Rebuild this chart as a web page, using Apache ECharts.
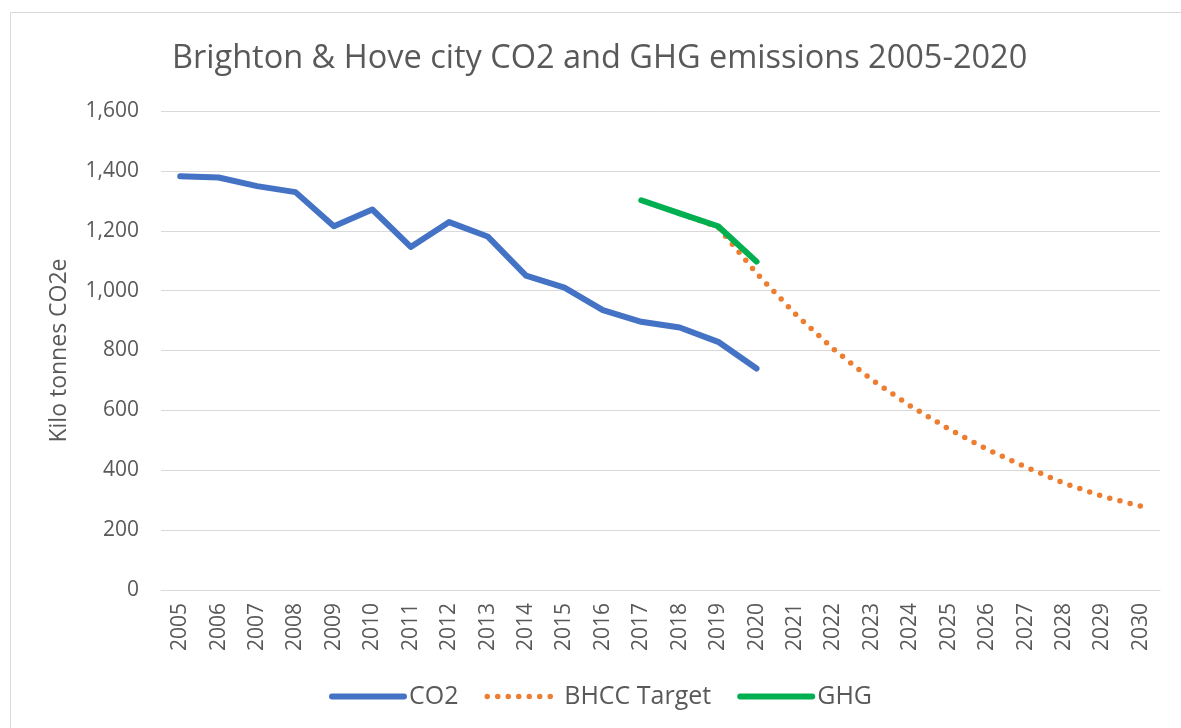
<!DOCTYPE html>
<html>
<head>
<meta charset="utf-8">
<script src="https://cdn.jsdelivr.net/npm/echarts@6/dist/echarts.min.js"></script>
<style>
  html, body { margin: 0; padding: 0; background: #fff; }
  #main { width: 1181px; height: 728px; }
</style>
</head>
<body>
<div id="main"></div>
<script>
const years = ['2005', '2006', '2007', '2008', '2009', '2010', '2011', '2012', '2013',
  '2014', '2015', '2016', '2017', '2018', '2019', '2020', '2021', '2022', '2023',
  '2024', '2025', '2026', '2027', '2028', '2029', '2030'];

const co2 = [1382, 1378, 1349, 1329, 1215, 1271, 1146, 1229, 1181, 1050, 1010, 935,
  896, 877, 829, 740];

const target = [null, null, null, null, null, null, null, null, null, null, null, null,
  null, 1258, 1212, 1058, 923, 805, 702, 615, 538, 470, 411, 357, 313, 280];

const ghg = [null, null, null, null, null, null, null, null, null, null, null, null,
  1302, 1258, 1215, 1097];

const textColor = '#595959';
const font = 'Open Sans';

const myChart = echarts.init(document.getElementById('main'));

const option = {
  backgroundColor: '#fff',
  animation: false,
  textStyle: { fontFamily: font, color: textColor },
  graphic: [{
    type: 'rect',
    shape: { x: 10.5, y: 12.5, width: 1200, height: 800 },
    style: { fill: 'none', stroke: '#D9D9D9', lineWidth: 1 },
    silent: true
  }],
  title: {
    text: 'Brighton & Hove city CO2 and GHG emissions 2005-2020',
    left: 167,
    top: 37,
    textStyle: {
      fontFamily: font,
      fontSize: 32.5,
      fontWeight: 'normal',
      color: textColor
    }
  },
  legend: {
    data: ['CO2', 'BHCC Target', 'GHG'],
    bottom: 14,
    left: 324,
    itemWidth: 72,
    itemHeight: 10,
    itemGap: 26,
    itemStyle: { opacity: 0 },
    lineStyle: { width: 'inherit' },
    textStyle: { fontFamily: font, fontSize: 25, color: textColor }
  },
  grid: {
    left: 161,
    right: 21,
    top: 111,
    bottom: 138
  },
  xAxis: {
    type: 'category',
    data: years,
    boundaryGap: true,
    axisLine: { lineStyle: { color: '#D9D9D9', width: 1 } },
    axisTick: { show: false },
    axisLabel: {
      rotate: 90,
      interval: 0,
      margin: 13,
      fontFamily: font,
      fontSize: 21,
      color: textColor
    }
  },
  yAxis: {
    type: 'value',
    min: 0,
    max: 1600,
    interval: 200,
    name: 'Kilo tonnes CO2e',
    nameLocation: 'middle',
    nameGap: 90,
    nameTextStyle: { fontFamily: font, fontSize: 23, color: textColor },
    axisLine: { show: false },
    axisTick: { show: false },
    axisLabel: {
      margin: 22,
      fontFamily: font,
      fontSize: 21,
      color: textColor,
      formatter: v => v.toLocaleString('en-US')
    },
    splitLine: { lineStyle: { color: '#D9D9D9', width: 1 } }
  },
  series: [
    {
      name: 'CO2',
      type: 'line',
      data: co2,
      symbol: 'none',
      lineStyle: { color: '#4472C4', width: 6, cap: 'round', join: 'round' },
      itemStyle: { color: '#4472C4' }
    },
    {
      name: 'BHCC Target',
      type: 'line',
      data: target,
      symbol: 'none',
      lineStyle: { color: '#ED7D31', width: 5.5, type: [0, 10.5], cap: 'round' },
      itemStyle: { color: '#ED7D31' }
    },
    {
      name: 'GHG',
      type: 'line',
      data: ghg,
      symbol: 'none',
      lineStyle: { color: '#00B050', width: 6, cap: 'round', join: 'round' },
      itemStyle: { color: '#00B050' }
    }
  ]
};

myChart.setOption(option);
</script>
</body>
</html>
